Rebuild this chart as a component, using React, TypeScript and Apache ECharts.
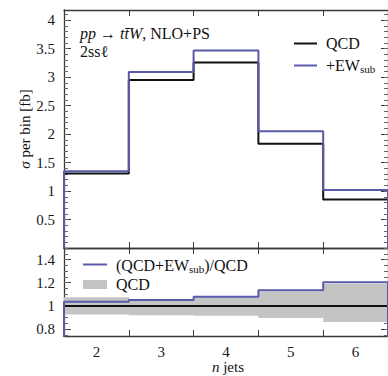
import React, { useEffect, useRef } from "react";
import * as echarts from "echarts";

// Jet-multiplicity bins and their edges
const jetBins = [2, 3, 4, 5, 6];
const binEdges = [1.5, 2.5, 3.5, 4.5, 5.5, 6.5];

// Cross section per bin [fb]
const sigmaQCD = [1.31, 2.95, 3.26, 1.83, 0.85];
const sigmaQCDEW = [1.35, 3.09, 3.47, 2.05, 1.02];

// Ratio panel: (QCD+EW_sub)/QCD and the QCD uncertainty band
const ratioQCDEW = [1.035, 1.05, 1.08, 1.135, 1.205];
const bandLow = [0.925, 0.92, 0.915, 0.895, 0.86];
const bandHigh = [1.075, 1.05, 1.075, 1.125, 1.19];
const unityRatio = 1;

// Tick positions
const upperTicks = [0.5, 1, 1.5, 2, 2.5, 3, 3.5, 4];
const lowerTicks = [0.8, 1, 1.2, 1.4];

const FONT = "Liberation Serif, DejaVu Serif, serif";
const BLUE = "#5a5aaa";
const FRAME = "#3a3a3a";

function range(start: number, stop: number, step: number) {
  const out: number[] = [];
  const n = Math.round((stop - start) / step);
  for (let i = 0; i <= n; i++) out.push(+(start + i * step).toFixed(4));
  return out;
}

const upperMinor = range(0, 4.1, 0.1);
const lowerMinor = range(0.75, 1.5, 0.05);

// Histogram outline: rise from the base at the first edge, step across each bin, drop at the last edge
function stepPoints(values: number[], base: number) {
  const pts: number[][] = [[binEdges[0], base]];
  values.forEach((v, i) => {
    pts.push([binEdges[i], v], [binEdges[i + 1], v]);
  });
  pts.push([binEdges[binEdges.length - 1], base]);
  return pts;
}

function xAxes(gridIndex: number, showLabels: boolean) {
  const common = {
    type: "value" as const,
    gridIndex,
    min: 1.5,
    max: 6.5,
    splitLine: { show: false },
    axisLine: { show: true, onZero: false, lineStyle: { color: FRAME, width: 1.3 } },
    axisTick: { show: true, inside: true, length: 6, customValues: binEdges, lineStyle: { color: FRAME } },
  };
  return [
    {
      ...common,
      position: "bottom",
      axisLabel: {
        show: showLabels,
        customValues: jetBins,
        margin: 8,
        fontFamily: FONT,
        fontSize: 15,
        color: "#1a1a1a",
      },
    },
    { ...common, position: "top", axisLabel: { show: false } },
  ];
}

function yAxes(gridIndex: number, min: number, max: number, majors: number[], minors: number[]) {
  const base = {
    type: "value" as const,
    gridIndex,
    min,
    max,
    splitLine: { show: false },
  };
  const major = (position: string, labels: boolean) => ({
    ...base,
    position,
    axisLine: { show: true, onZero: false, lineStyle: { color: FRAME, width: 1.3 } },
    axisTick: { show: true, inside: true, length: 7, customValues: majors, lineStyle: { color: FRAME } },
    axisLabel: {
      show: labels,
      customValues: majors,
      margin: 9,
      fontFamily: FONT,
      fontSize: 15,
      color: "#1a1a1a",
      formatter: (v: number) => String(Math.round(v * 10) / 10),
    },
  });
  const minor = (position: string) => ({
    ...base,
    position,
    axisLine: { show: false },
    axisTick: { show: true, inside: true, length: 4, customValues: minors, lineStyle: { color: "#666" } },
    axisLabel: { show: false },
  });
  return [major("left", true), minor("left"), major("right", false), minor("right")];
}

export default function App() {
  const ref = useRef<HTMLDivElement>(null);

  useEffect(() => {
    if (!ref.current) return;
    const chart = echarts.init(ref.current, undefined, { renderer: "svg" });

    const label = (text: string, x: number, y: number) => ({
      type: "text",
      x,
      y,
      style: {
        text,
        fontFamily: FONT,
        fontSize: 16,
        fill: "#111",
        align: "left",
        verticalAlign: "middle",
        lineHeight: 18,
        rich: {
          i: { fontStyle: "italic", fontFamily: FONT, fontSize: 16, lineHeight: 18 },
          s: { fontFamily: FONT, fontSize: 11, lineHeight: 8, verticalAlign: "bottom" },
        },
      },
    });

    chart.setOption({
      animation: false,
      grid: [
        { left: 64, top: 10, width: 325, height: 238 },
        { left: 64, top: 248, width: 325, height: 88 },
      ],
      xAxis: [...xAxes(0, false), ...xAxes(1, true)],
      yAxis: [
        ...yAxes(0, 0, 4.18, upperTicks, upperMinor),
        ...yAxes(1, 0.74, 1.5, lowerTicks, lowerMinor),
      ],
      series: [
        {
          name: "QCD",
          type: "line",
          xAxisIndex: 0,
          yAxisIndex: 0,
          data: stepPoints(sigmaQCD, 0),
          symbol: "none",
          lineStyle: { color: "#111", width: 2 },
          z: 3,
        },
        {
          name: "+EW_sub",
          type: "line",
          xAxisIndex: 0,
          yAxisIndex: 0,
          data: stepPoints(sigmaQCDEW, 0),
          symbol: "none",
          lineStyle: { color: BLUE, width: 2 },
          z: 4,
        },
        {
          name: "QCD band",
          type: "custom",
          xAxisIndex: 2,
          yAxisIndex: 4,
          data: jetBins.map((_, i) => [binEdges[i], binEdges[i + 1], bandLow[i], bandHigh[i]]),
          encode: { x: [0, 1], y: [2, 3] },
          clip: true,
          renderItem: (_params: any, api: any) => {
            const p1 = api.coord([api.value(0), api.value(3)]);
            const p2 = api.coord([api.value(1), api.value(2)]);
            return {
              type: "rect",
              shape: { x: p1[0], y: p1[1], width: p2[0] - p1[0] + 0.5, height: p2[1] - p1[1] },
              style: { fill: "#c4c4c4" },
            };
          },
          z: 2,
        },
        {
          name: "QCD ratio",
          type: "line",
          xAxisIndex: 2,
          yAxisIndex: 4,
          data: [
            [binEdges[0], unityRatio],
            [binEdges[binEdges.length - 1], unityRatio],
          ],
          symbol: "none",
          lineStyle: { color: "#111", width: 2 },
          z: 3,
        },
        {
          name: "(QCD+EW_sub)/QCD",
          type: "line",
          xAxisIndex: 2,
          yAxisIndex: 4,
          data: stepPoints(ratioQCDEW, 0),
          symbol: "none",
          lineStyle: { color: BLUE, width: 2 },
          z: 4,
        },
      ],
      graphic: [
        {
          type: "text",
          x: 25,
          y: 129,
          rotation: Math.PI / 2,
          style: {
            text: "{i|σ} per bin [fb]",
            fontFamily: FONT,
            fontSize: 15,
            fill: "#111",
            align: "center",
            verticalAlign: "middle",
            rich: { i: { fontStyle: "italic", fontFamily: FONT, fontSize: 15 } },
          },
        },
        {
          type: "text",
          x: 228,
          y: 367,
          style: {
            text: "{i|n} jets",
            fontFamily: FONT,
            fontSize: 15,
            fill: "#111",
            align: "center",
            verticalAlign: "middle",
            rich: { i: { fontStyle: "italic", fontFamily: FONT, fontSize: 15 } },
          },
        },
        label("{i|pp} → {i|tt\u0304W}, NLO+PS", 80, 33),
        label("2ssℓ", 80, 51),
        // upper legend
        { type: "line", shape: { x1: 294, y1: 43.5, x2: 317, y2: 43.5 }, style: { stroke: "#111", lineWidth: 2 } },
        label("QCD", 326, 43),
        { type: "line", shape: { x1: 294, y1: 65.5, x2: 317, y2: 65.5 }, style: { stroke: BLUE, lineWidth: 2 } },
        label("+EW{s|sub}", 326, 65),
        // ratio legend
        { type: "line", shape: { x1: 83, y1: 264.5, x2: 107, y2: 264.5 }, style: { stroke: BLUE, lineWidth: 2 } },
        label("(QCD+EW{s|sub})/QCD", 116, 265),
        { type: "rect", shape: { x: 83, y: 280, width: 24, height: 9 }, style: { fill: "#c4c4c4" } },
        label("QCD", 116, 284),
      ],
    });

    return () => chart.dispose();
  }, []);

  return (
    <div
      ref={ref}
      style={{ position: "absolute", left: 0, top: 0, width: 388, height: 376, background: "#fff" }}
    />
  );
}
